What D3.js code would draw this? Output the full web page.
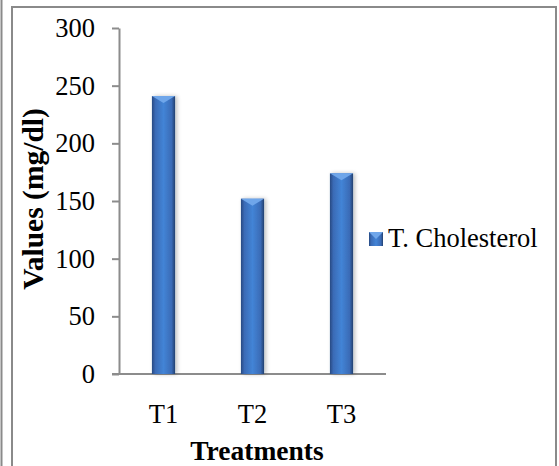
<!DOCTYPE html>
<html><head><meta charset="utf-8">
<script src="https://cdn.jsdelivr.net/npm/d3@7"></script>
<style>body{margin:0;background:#fff}svg{display:block;font-family:"Liberation Serif","Times New Roman",serif}</style>
</head><body>
<script>
const categories = ["T1","T2","T3"];
const values = [241, 152, 174];
const yTicks = [0,50,100,150,200,250,300];
const seriesName = "T. Cholesterol";
const xTitle = "Treatments";
const yTitle = "Values (mg/dl)";

const W=559,H=466;
const svg=d3.select("body").append("svg").attr("width",W).attr("height",H);
const defs=svg.append("defs");
const g1=defs.append("linearGradient").attr("id","barg").attr("x1","0").attr("x2","1").attr("y1","0").attr("y2","0");
[[0,"#274a82"],[0.15,"#3a6bb6"],[0.5,"#4384d6"],[0.85,"#3a6bb6"],[1,"#22406f"]].forEach(([o,c])=>g1.append("stop").attr("offset",o).attr("stop-color",c));
const sh=defs.append("filter").attr("id","sh").attr("x","-50%").attr("width","200%");
sh.append("feGaussianBlur").attr("in","SourceAlpha").attr("stdDeviation",2);
sh.append("feOffset").attr("dx",2).attr("dy",0).attr("result","b");
sh.append("feComponentTransfer").append("feFuncA").attr("type","linear").attr("slope",0.25);
const fm=sh.append("feMerge");fm.append("feMergeNode");fm.append("feMergeNode").attr("in","SourceGraphic");

// frames
svg.append("line").attr("x1",1.5).attr("x2",1.5).attr("y1",0).attr("y2",H).attr("stroke","#8a8a8a").attr("stroke-width",2);
svg.append("path").attr("d",`M12,${H} V7 H556 V${H}`).attr("fill","none").attr("stroke","#8a8a8a").attr("stroke-width",2);

const y=d3.scaleLinear().domain([0,300]).range([374,28]);
const x=d3.scaleBand().domain(categories).range([119,386]).paddingInner(0.74).paddingOuter(0.37);

// axes
const ya=svg.append("g").attr("transform","translate(119,0)").call(d3.axisLeft(y).tickValues(yTicks).tickSize(7).tickSizeOuter(0).tickPadding(17));
ya.select(".domain").attr("stroke","#8c8c8c").attr("stroke-width",2);
ya.selectAll(".tick line").attr("stroke","#8c8c8c").attr("stroke-width",2);
ya.selectAll("text").attr("font-size",26.5).attr("fill","#000").attr("font-family","Liberation Serif");

const xa=svg.append("g").attr("transform","translate(0,374)").call(d3.axisBottom(x).tickSize(0).tickPadding(30));
xa.select(".domain").attr("d","M112,0H386").attr("stroke","#8c8c8c").attr("stroke-width",2);
xa.selectAll("text").attr("font-size",26.5).attr("fill","#000").attr("font-family","Liberation Serif");

// bars
const bars=svg.append("g").selectAll("g").data(values).join("g");
bars.append("rect").attr("x",(d,i)=>x(categories[i])).attr("y",d=>y(d)).attr("width",x.bandwidth()).attr("height",d=>y(0)-y(d)).attr("fill","url(#barg)").attr("filter","url(#sh)");
bars.append("path").attr("d",(d,i)=>{const x0=x(categories[i]),w=x.bandwidth(),t=y(d);return `M${x0},${t}H${x0+w}L${x0+w/2},${t+7}Z`;}).attr("fill","#6fa6ea");

// titles
svg.append("text").attr("x",257).attr("y",460).attr("text-anchor","middle").attr("font-size",27.5).attr("font-weight","bold").text(xTitle);
svg.append("text").attr("transform","translate(43,199) rotate(-90)").attr("text-anchor","middle").attr("font-size",29.5).attr("font-weight","bold").text(yTitle);

// legend
const lg=svg.append("g").attr("transform","translate(369,232)");
lg.append("rect").attr("width",14).attr("height",14).attr("fill","url(#barg)");
lg.append("path").attr("d","M0,0H14L7,7Z").attr("fill","#6fa6ea");
lg.append("text").attr("x",19).attr("y",15).attr("font-size",26.5).text(seriesName);
</script>
</body></html>
